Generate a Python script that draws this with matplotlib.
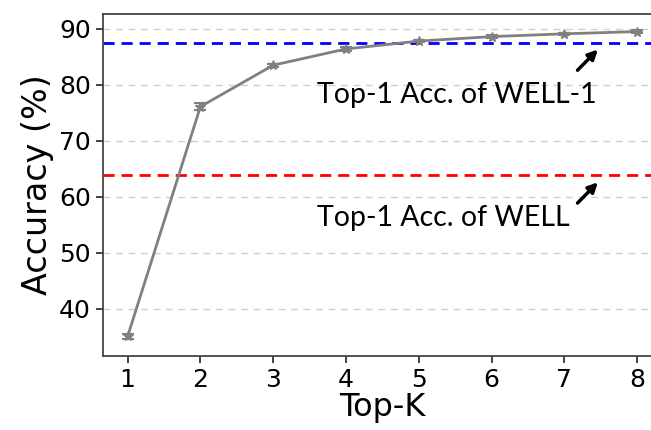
import matplotlib
matplotlib.use('Agg')
import matplotlib.pyplot as plt

plt.rcParams['font.family'] = 'DejaVu Sans'

# Top-K accuracy values
top_k = [1, 2, 3, 4, 5, 6, 7, 8]
acc = [35.1, 76.1, 83.5, 86.4, 87.8, 88.6, 89.1, 89.5]
acc_err = [0.4, 0.6, 0.3, 0.3, 0.2, 0.2, 0.2, 0.2]

# reference lines
well1_acc = 87.4
well_acc = 63.9

fig = plt.figure(figsize=(6.51, 4.30), dpi=100)
ax = fig.add_axes([0.158, 0.172, 0.86, 0.795])

ax.yaxis.grid(True, linestyle=(0, (5, 4)), color='#d0d0d0', linewidth=1)
ax.set_axisbelow(True)

ax.axhline(well1_acc, color='blue', linestyle=(0, (4, 2.5)), linewidth=2)
ax.axhline(well_acc, color='red', linestyle=(0, (4, 2.5)), linewidth=2)

ax.errorbar(top_k, acc, yerr=acc_err, color='gray', linewidth=2,
            marker='*', markersize=7, capsize=4, elinewidth=1.5, capthick=1.5)

arrow = dict(arrowstyle='-|>', color='black', lw=2.5, mutation_scale=14,
             shrinkA=0, shrinkB=0)
ax.annotate('', xy=(7.46, 86.3), xytext=(7.18, 82.6), arrowprops=arrow)
ax.annotate('', xy=(7.46, 62.6), xytext=(7.18, 58.9), arrowprops=arrow)

ax.text(3.6, 78.1, 'Top-1 Acc. of WELL-1', fontsize=20.5, family='Lato',
        va='center', ha='left')
ax.text(3.6, 56.2, 'Top-1 Acc. of WELL', fontsize=20.5, family='Lato',
        va='center', ha='left')

ax.set_xlim(0.66, 8.35)
ax.set_ylim(31.6, 92.6)
ax.set_xticks(top_k)
ax.set_yticks([40, 50, 60, 70, 80, 90])
ax.tick_params(labelsize=18, length=5, width=1.2, colors='#222222', labelcolor='black')
for s in ax.spines.values():
    s.set_color('#444444')
    s.set_linewidth(1.3)
ax.spines['right'].set_visible(False)

ax.set_xlabel('Top-K', fontsize=23, labelpad=0)
ax.set_ylabel('Accuracy (%)', fontsize=24, labelpad=4)

plt.savefig('out.png', dpi=100)
